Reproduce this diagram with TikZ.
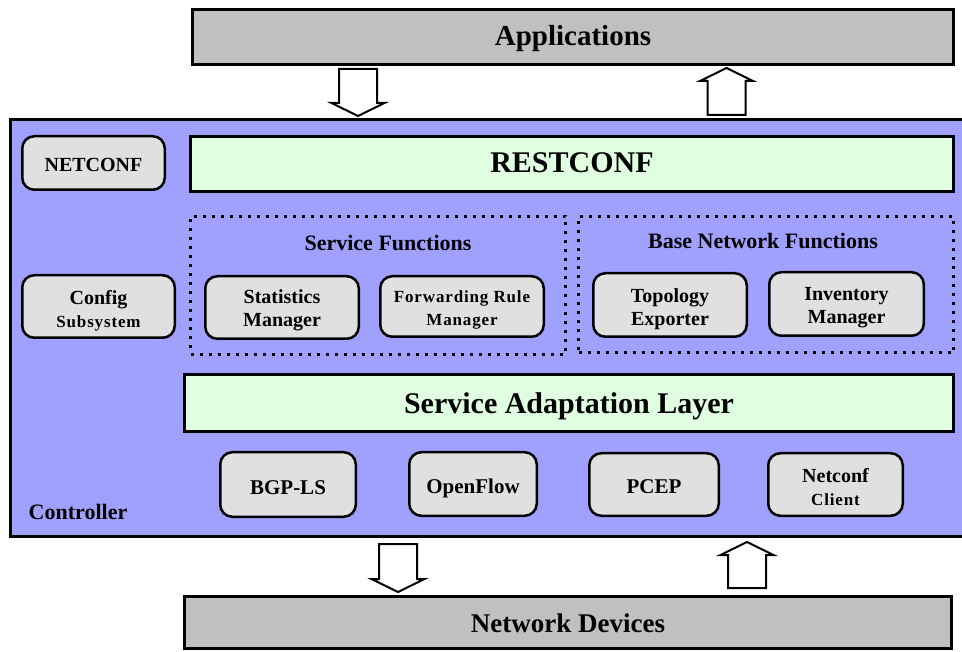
\documentclass[tikz,border=0pt]{standalone}
\usepackage{fontspec}
\setmainfont{Liberation Serif}
\usetikzlibrary{calc}

\definecolor{bargray}{HTML}{C0C0C0}
\definecolor{ctrlblue}{HTML}{A0A0FF}
\definecolor{layergreen}{HTML}{E0FFE0}
\definecolor{modgray}{HTML}{E0E0E0}

% font size helpers
\newcommand\setsz[1]{\fontsize{#1}{#1}\selectfont}
\newcommand\szpt[2]{\fontsize{#1}{#2}\selectfont}
% smaller, letter-spaced lines
\newcommand\subline[1]{{\fontsize{17}{22}\selectfont\addfontfeatures{LetterSpace=5}#1}}

\tikzset{
  % vertical placement of the text: the box is taken as #1 high, with no depth
  textbox/.style={text depth=0pt, text height=#1},
  bar/.style={draw, line width=3pt, inner sep=0pt, font=\bfseries},
  module/.style={draw, fill=modgray, line width=2.5pt, rounded corners=12pt,
                 align=center, inner sep=0pt, font=\bfseries\szpt{20}{23}},
  group/.style={draw, line width=3pt, dash pattern=on 3pt off 6pt, inner sep=0pt},
  grouptitle/.style={inner sep=0pt, font=\bfseries\setsz{22}},
  hollowarrow/.style={draw, fill=white, line width=2pt, line join=miter},
}

% vertical block arrow from a tail point to a tip point
\newcommand\blockarrow[2]{%
  \draw[hollowarrow] let \p1=(#1), \p2=(#2), \n1={ifthenelse(\y2>\y1,1,-1)} in
    ({\x1-19pt},\y1) -- ({\x1-19pt},{\y2-\n1*13pt}) -- ({\x1-26.5pt},{\y2-\n1*13pt})
    -- (\x1,\y2) -- ({\x1+26.5pt},{\y2-\n1*13pt}) -- ({\x1+19pt},{\y2-\n1*13pt})
    -- ({\x1+19pt},\y1) -- cycle;}

\begin{document}
\begin{tikzpicture}[x=1pt, y=-1pt]
  \fill[white] (0,0) rectangle (962,652);
  \useasboundingbox (0,0) rectangle (962,652);

  % outer layers
  \node[bar, fill=bargray, minimum width=761pt, minimum height=55pt, textbox=17.4pt] (apps) at (573,37)
    {\setsz{29}Applications};
  \node[bar, fill=ctrlblue, minimum width=964.5pt, minimum height=417pt] (ctrl) at (492.75,328) {};
  \node[bar, fill=bargray, minimum width=767pt, minimum height=52pt, textbox=19.9pt] (nd) at (568,622.5)
    {\setsz{27}Network Devices};

  \node[inner sep=0pt, font=\bfseries\setsz{22}] (ctrllabel) at (78,512) {Controller};

  % northbound and southbound layers
  \node[bar, fill=layergreen, minimum width=763pt, minimum height=55pt, textbox=17.9pt] (rest) at (572,164)
    {\setsz{30}RESTCONF};
  \node[bar, fill=layergreen, minimum width=769pt, minimum height=57pt, textbox=20.9pt] (sal) at (569,403)
    {\setsz{30}Service Adaptation Layer};

  % function groups
  \node[group, minimum width=375pt, minimum height=138pt] (sf) at (378,285.5) {};
  \node[group, minimum width=375pt, minimum height=136.5pt] (bnf) at (766,284.75) {};
  \node[grouptitle] (sftitle) at (388,243.5) {Service Functions};
  \node[grouptitle] (bnftitle) at (763,241) {Base Network Functions};

  % modules
  \node[module, minimum width=142.5pt, minimum height=53.5pt, textbox=16.2pt] (netconf) at (93.5,163) {NETCONF};
  \node[module, minimum width=152.5pt, minimum height=62.5pt, textbox=41.6pt] (config) at (98.5,306.5)
    {Config\\\subline{Subsystem}};
  \node[module, minimum width=153.5pt, minimum height=62.5pt, textbox=39pt] (stats) at (282,307.5)
    {Statistics\\Manager};
  \node[module, minimum width=163.5pt, minimum height=60.5pt, textbox=39pt] (fwd) at (462,306.5)
    {\subline{Forwarding Rule}\\\subline{Manager}};
  \node[module, minimum width=153.5pt, minimum height=63.5pt, textbox=42pt] (topo) at (670,305)
    {Topology\\Exporter};
  \node[module, minimum width=154.5pt, minimum height=63.5pt, textbox=40pt] (inv) at (846.5,304)
    {Inventory\\Manager};

  \node[module, minimum width=135.5pt, minimum height=64.5pt, textbox=20.9pt, font=\bfseries\setsz{21}] (bgp) at (288,484.5) {BGP-LS};
  \node[module, minimum width=127.5pt, minimum height=63.5pt, textbox=19.9pt, font=\bfseries\setsz{21}] (of) at (473,484) {OpenFlow};
  \node[module, minimum width=129.5pt, minimum height=62.5pt, textbox=18.9pt, font=\bfseries\setsz{21}] (pcep) at (654,484.5) {PCEP};
  \node[module, minimum width=134.5pt, minimum height=62.5pt, textbox=41pt] (ncc) at (835.5,484.5)
    {Netconf\\\subline{Client}};

  % columns of the block arrows
  \coordinate (colA) at (358,0);
  \coordinate (colB) at (726.5,0);
  \coordinate (colC) at (398,0);
  \coordinate (colD) at (747,0);

  \path (apps.south -| colA) ++(0,3) coordinate (aDownTail);
  \path (ctrl.north -| colA) ++(0,-2) coordinate (aDownTip);
  \path (ctrl.north -| colB) ++(0,-3) coordinate (aUpTail);
  \path (apps.south -| colB) ++(0,2) coordinate (aUpTip);
  \path (ctrl.south -| colC) ++(0,6) coordinate (dDownTail);
  \path (nd.north -| colC) ++(0,-3) coordinate (dDownTip);
  \path (nd.north -| colD) ++(0,-7) coordinate (dUpTail);
  \path (ctrl.south -| colD) ++(0,4) coordinate (dUpTip);

  \blockarrow{aDownTail}{aDownTip}
  \blockarrow{aUpTail}{aUpTip}
  \blockarrow{dDownTail}{dDownTip}
  \blockarrow{dUpTail}{dUpTip}
\end{tikzpicture}
\end{document}
